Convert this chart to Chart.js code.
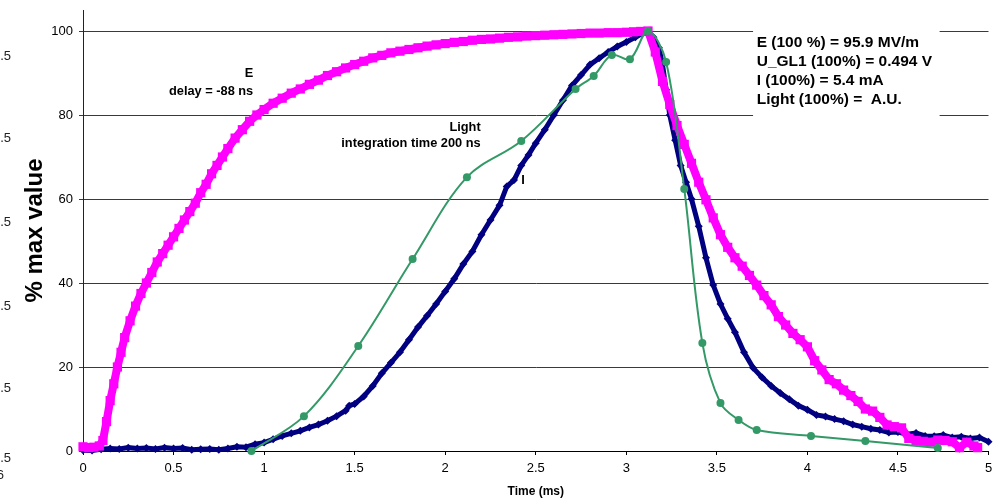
<!DOCTYPE html>
<html>
<head>
<meta charset="utf-8">
<script src="https://cdn.jsdelivr.net/npm/chart.js@4.4.1/dist/chart.umd.min.js"></script>
<style>
  html, body { margin: 0; padding: 0; background: #fff; overflow: hidden; }
  canvas { display: block; }
</style>
</head>
<body>
<canvas id="c" width="995" height="501"></canvas>
<script>
// Field E (normalised, %)
const eTime = [0.00,0.03,0.06,0.09,0.11,0.13,0.15,0.17,0.19,0.21,0.23,0.26,0.29,0.32,0.35,0.38,0.41,0.44,0.47,0.50,
  0.53,0.56,0.59,0.62,0.65,0.68,0.71,0.74,0.77,0.80,0.84,0.88,0.92,0.96,1.00,1.05,1.10,1.15,1.20,1.25,
  1.30,1.35,1.40,1.45,1.50,1.55,1.60,1.65,1.70,1.75,1.80,1.85,1.90,1.95,2.00,2.05,2.10,2.15,2.20,2.25,
  2.30,2.35,2.40,2.45,2.50,2.55,2.60,2.65,2.70,2.75,2.80,2.85,2.90,2.95,3.00,3.04,3.08,3.12,3.16,3.20,
  3.24,3.28,3.32,3.36,3.40,3.44,3.48,3.52,3.56,3.60,3.64,3.68,3.72,3.76,3.80,3.84,3.88,3.92,3.96,4.00,
  4.04,4.08,4.12,4.16,4.20,4.24,4.28,4.32,4.36,4.40,4.44,4.48,4.52,4.56,4.60,4.64,4.68,4.72,4.76,4.80,
  4.84,4.88,4.92,4.94];
const eValue = [1.0,0.8,0.9,1.2,2.5,7,12,16,20,23.5,27,31,34.5,37.5,40,42.5,45,47,49,51,
  53,55,57,59,61.5,63.5,66,68,70,72,74.5,76.5,78.5,80,81.3,82.8,84,85.2,86.2,87.3,
  88.3,89.4,90.3,91.2,92,92.8,93.6,94.2,94.8,95.2,95.6,96,96.4,96.7,97,97.3,97.5,97.8,98,98.1,
  98.3,98.5,98.6,98.8,98.9,99,99.1,99.2,99.3,99.4,99.5,99.5,99.6,99.6,99.7,99.8,99.9,100,95,88,
  82.5,77.5,73,68.5,64,59.8,55.5,51.5,48.5,46,44,41.8,39.5,37,34.8,32,30,28,26.5,24.8,
  21.5,19.3,17,16,14.5,13.2,11.8,10,9.5,8,6.2,5.8,5.5,3,2.5,2.3,2.1,2.6,2.5,2.2,
  0.8,2.1,1.2,0.8];

// Current I (normalised, %)
const iTime = [0.00,0.05,0.10,0.15,0.20,0.25,0.30,0.35,0.40,0.45,0.50,0.55,0.60,0.65,0.70,0.75,0.80,0.85,0.90,0.95,
  1.00,1.05,1.10,1.15,1.20,1.25,1.30,1.35,1.40,1.45,1.47,1.50,1.55,1.60,1.65,1.70,1.75,1.80,1.85,1.90,
  1.95,2.00,2.05,2.10,2.15,2.20,2.25,2.30,2.34,2.38,2.42,2.46,2.50,2.55,2.60,2.65,2.70,2.75,2.80,2.85,
  2.90,2.95,3.00,3.05,3.10,3.15,3.18,3.20,3.22,3.24,3.27,3.30,3.33,3.36,3.40,3.44,3.48,3.52,3.56,3.60,
  3.65,3.70,3.75,3.80,3.85,3.90,3.95,4.00,4.05,4.10,4.15,4.20,4.25,4.30,4.35,4.40,4.45,4.50,4.55,4.60,
  4.65,4.70,4.75,4.80,4.85,4.90,4.95,5.00];
const iValue = [0.2,0.1,0.4,0.6,0.5,0.8,0.6,0.7,0.5,0.8,0.6,0.7,0.3,0.4,0.5,0.3,0.6,1.0,0.9,1.6,
  2.0,2.8,3.6,4.2,4.8,5.6,6.3,7.2,8.3,9.6,10.8,11.2,13,15.5,18.5,21,23.5,26.5,29.5,32.2,
  35,38,41,44.5,47.5,51.5,55,58.5,63,64.5,68,70.5,73.3,76.5,80,83.5,87,89.5,92,93.5,
  95,96.3,97.4,98.5,99.7,98.5,96,92,86,80,74,68,64,60,53.5,46,39.5,35,31.5,28.3,
  23.5,19.8,17.5,15.5,13.8,12.3,10.8,9.8,8.6,8.2,7.6,7.1,6.3,5.8,5.3,5.0,4.4,4.5,4.0,4.3,
  3.6,3.5,3.8,3.2,3.4,3.0,3.2,2.2];

// Light, integration time 200 ns (normalised, %)
const lightTime = [0.93,1.22,1.52,1.82,2.12,2.42,2.72,2.82,2.92,3.02,3.12,3.22,3.32,3.42,3.52,3.62,3.72,4.02,4.32,4.72];
const lightValue = [0,8.3,25,45.7,65.2,73.8,86.2,89.3,94.3,93.3,100,92.6,62.4,25.7,11.4,7.4,5,3.6,2.4,0.7];

const xTicks = [0,0.5,1,1.5,2,2.5,3,3.5,4,4.5,5];
const xTickLabels = ['0','0.5','1','1.5','2','2.5','3','3.5','4','4.5','5'];
const yTicks = [0,20,40,60,80,100];
const yTickLabels = ['0','20','40','60','80','100'];

const infoLines = ['E (100 %) = 95.9 MV/m','U_GL1 (100%) = 0.494 V','I (100%) = 5.4 mA','Light (100%) =  A.U.'];
const edgeLabels = ['.5','.5','.5','.5','.5','.5','6'];
const edgeLabelValues = [94, 74.5, 54.5, 34.5, 14.8, -1.7, -5.8];

const FONT = "'Liberation Sans', Arial, sans-serif";
const toPoints = (xs, ys) => xs.map((x, i) => ({ x: x, y: ys[i] }));

// Text notes, info box and the clipped labels at the left edge
const notesPlugin = {
  id: 'notes',
  afterDraw(chart) {
    const { ctx } = chart;
    const xs = chart.scales.x, ys = chart.scales.y;
    const px = v => xs.getPixelForValue(v);
    const py = v => ys.getPixelForValue(v);
    ctx.save();

    // info box
    const bx0 = px(3.70), bx1 = px(4.73), by0 = py(101), by1 = py(79.2);
    ctx.fillStyle = '#fff';
    ctx.fillRect(bx0, by0, bx1 - bx0, by1 - by0);
    ctx.fillStyle = '#000';
    ctx.font = 'bold 15.5px ' + FONT;
    ctx.textAlign = 'left';
    ctx.textBaseline = 'middle';
    const ty0 = py(97.1);
    infoLines.forEach((t, i) => ctx.fillText(t, px(3.72), ty0 + i * 19));

    // curve notes
    ctx.font = 'bold 12.8px ' + FONT;
    ctx.textAlign = 'right';
    ctx.fillText('E', px(0.94), py(90));
    ctx.fillText('delay = -88 ns', px(0.94), py(85.7));
    ctx.fillText('Light', px(2.196), py(77.1));
    ctx.fillText('integration time 200 ns', px(2.196), py(73.3));
    ctx.textAlign = 'left';
    ctx.fillText('I', px(2.42), py(64.3));

    // clipped labels at the left edge
    ctx.font = '13px ' + FONT;
    ctx.fillStyle = '#222';
    ctx.textAlign = 'right';
    edgeLabels.forEach((t, i) => ctx.fillText(t, i === edgeLabels.length - 1 ? 4 : 11, py(edgeLabelValues[i])));
    ctx.restore();
  }
};

Chart.defaults.font.family = FONT;
Chart.defaults.color = '#000';

new Chart(document.getElementById('c'), {
  type: 'line',
  data: {
    datasets: [
      {
        label: 'Light',
        data: toPoints(lightTime, lightValue),
        borderColor: '#339966',
        backgroundColor: '#339966',
        borderWidth: 2,
        tension: 0.35,
        pointStyle: 'circle',
        pointRadius: 4,
        pointBorderWidth: 0,
        pointBackgroundColor: '#339966',
        clip: false,
        order: 0
      },
      {
        label: 'E',
        data: toPoints(eTime, eValue),
        borderColor: '#ff00ff',
        backgroundColor: '#ff00ff',
        borderWidth: 8,
        tension: 0,
        pointStyle: 'rect',
        pointRadius: 6.5,
        pointBorderWidth: 0,
        pointBackgroundColor: '#ff00ff',
        clip: false,
        order: 1
      },
      {
        label: 'I',
        data: toPoints(iTime, iValue),
        borderColor: '#000080',
        backgroundColor: '#000080',
        borderWidth: 5,
        tension: 0,
        pointStyle: 'rectRot',
        pointRadius: 4,
        pointBorderWidth: 0,
        pointBackgroundColor: '#000080',
        clip: false,
        order: 2
      }
    ]
  },
  options: {
    responsive: false,
    animation: false,
    devicePixelRatio: 1,
    layout: { padding: { left: 0, right: 6, top: 10, bottom: 0 } },
    plugins: { legend: { display: false }, tooltip: { enabled: false } },
    elements: { point: { hoverRadius: 0 } },
    scales: {
      x: {
        type: 'linear',
        min: 0,
        max: 5,
        afterBuildTicks: s => { s.ticks = xTicks.map(v => ({ value: v })); },
        afterFit: s => { s.height = 50; s.paddingLeft = 0; s.paddingRight = 0; },
        ticks: {
          autoSkip: false,
          maxRotation: 0,
          padding: 6,
          font: { size: 13 },
          color: '#000',
          callback: (v) => xTickLabels[xTicks.indexOf(v)]
        },
        grid: { drawOnChartArea: false, drawTicks: true, tickLength: 4, color: '#000', lineWidth: 1 },
        border: { display: true, color: '#000', width: 1 },
        title: { display: true, text: 'Time (ms)', font: { size: 12, weight: 'bold' }, color: '#000', padding: { top: 0, bottom: 2 } }
      },
      y: {
        type: 'linear',
        min: 0,
        max: 105,
        afterBuildTicks: s => { s.ticks = yTicks.map(v => ({ value: v })); },
        afterFit: s => { s.width = 83; s.paddingTop = 0; s.paddingBottom = 0; },
        ticks: {
          padding: 6,
          font: { size: 13 },
          color: '#000',
          callback: (v) => yTickLabels[yTicks.indexOf(v)]
        },
        grid: { drawOnChartArea: true, drawTicks: true, tickLength: 4, color: '#3a3a3a', lineWidth: 1 },
        border: { display: true, color: '#222', width: 1 },
        title: { display: true, text: '% max value', font: { size: 24, weight: 'bold' }, color: '#000', padding: { top: 21, bottom: 0 } }
      }
    }
  },
  plugins: [notesPlugin]
});
</script>
</body>
</html>
